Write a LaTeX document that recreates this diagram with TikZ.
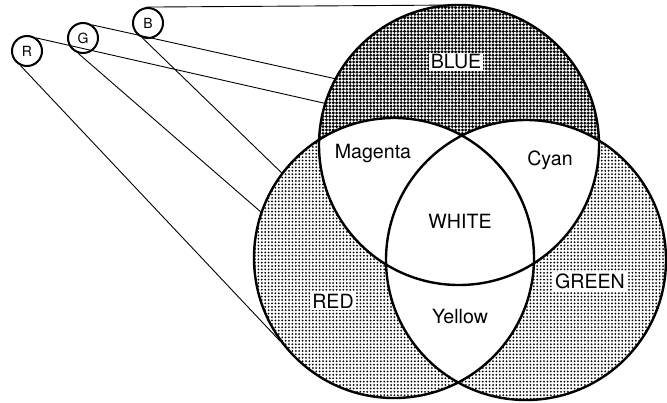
\documentclass[tikz,border=0pt]{standalone}
\usepackage{fontspec}
\setmainfont{TeX Gyre Heros}
\usetikzlibrary{patterns}
\pgfdeclarepatternformonly{light dots}{\pgfqpoint{-1pt}{-1pt}}{\pgfqpoint{1pt}{1pt}}{\pgfqpoint{1.7pt}{1.7pt}}{\pgfpathcircle{\pgfpointorigin}{0.5pt}\pgfusepath{fill}}
\pgfdeclarepatternformonly{dark dots}{\pgfqpoint{-1pt}{-1pt}}{\pgfqpoint{1pt}{1pt}}{\pgfqpoint{1.7pt}{1.7pt}}{\pgfpathcircle{\pgfpointorigin}{0.8pt}\pgfusepath{fill}}

\begin{document}
\begin{tikzpicture}[x=0.5pt,y=-0.5pt,
    proj/.style={circle,draw,line width=1pt,minimum size=15pt,inner sep=0pt,font=\fontsize{7}{8}\selectfont},
    beam/.style={line width=0.45pt},
    rim/.style={line width=1.2pt},
    tag/.style={font=\fontsize{9.8}{11}\selectfont},
    boxtag/.style={tag,fill=white,inner sep=1pt}]
    \useasboundingbox (0,0) rectangle (667,402);
    \def\rad{70pt}
    \coordinate (rc) at (394,258);
    \coordinate (gc) at (526,260);
    \coordinate (bc) at (459,145);
    \coordinate (rtop) at (394,119);
    \coordinate (gtop) at (526,121);
    \coordinate (btop) at (459,5);
    \coordinate (rlow) at (280,341);
    \coordinate (glow) at (330,272);
    \coordinate (blow) at (320,210);

    \node[proj] (R) at (27,51) {R};
    \node[proj] (G) at (83,38) {G};
    \node[proj] (B) at (148,23) {B};

    \draw[beam] (B.95) -- (btop)
      (B.250) -- (blow)
      (G.55) -- (gtop)
      (G.252) -- (glow)
      (R.55) -- (rtop)
      (R.246) -- (rlow);

    \fill[white] (rc) circle[radius=\rad] (gc) circle[radius=\rad] (bc) circle[radius=\rad];
    \fill[pattern=dark dots] (bc) circle[radius=\rad];
    \fill[pattern=light dots] (rc) circle[radius=\rad] (gc) circle[radius=\rad];
    \begin{scope}
      \clip (bc) circle[radius=\rad];
      \fill[white] (rc) circle[radius=\rad] (gc) circle[radius=\rad];
    \end{scope}
    \begin{scope}
      \clip (rc) circle[radius=\rad];
      \fill[white] (gc) circle[radius=\rad];
    \end{scope}
    \draw[rim] (rc) circle[radius=\rad] (gc) circle[radius=\rad] (bc) circle[radius=\rad];

    \node[boxtag] (bluelab) at (456,62) {BLUE};
    \node[tag] (maglab) at (373,153) {Magenta};
    \node[tag] (cyanlab) at (550,160) {Cyan};
    \node[tag] (whitelab) at (460,221) {WHITE};
    \node[boxtag] (redlab) at (333,301) {RED};
    \node[boxtag] (greenlab) at (590,281) {GREEN};
    \node[tag] (yellowlab) at (460,316) {Yellow};
\end{tikzpicture}
\end{document}
